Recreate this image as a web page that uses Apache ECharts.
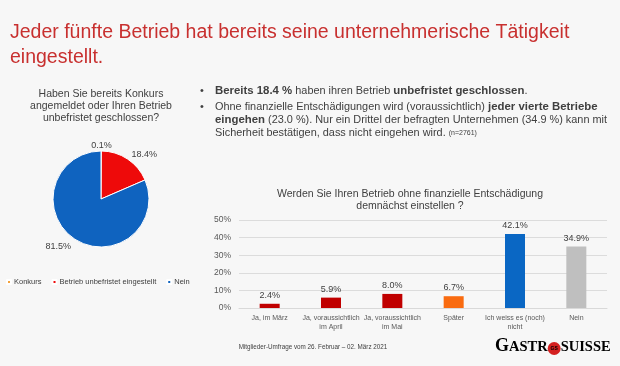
<!DOCTYPE html>
<html><head><meta charset="utf-8">
<script src="https://cdn.jsdelivr.net/npm/echarts@6/dist/echarts.min.js"></script>
<style>html,body{margin:0;padding:0;background:#f7f7f7}#c{width:620px;height:366px}</style>
</head><body><div id="c"></div>
<script>
// ---- data ----
var pieCategories = ['Konkurs', 'Betrieb unbefristet eingestellt', 'Nein'];
var pieValues = [0.1, 18.4, 81.5];
var barCategories = ['Ja, im März', 'Ja, voraussichtlich\nim April', 'Ja, voraussichtlich\nim Mai', 'Später', 'Ich weiss es (noch)\nnicht', 'Nein'];
var barValues = [2.4, 5.9, 8.0, 6.7, 42.1, 34.9];
var yTickMin = 0, yTickMax = 50, yTickStep = 10;

// ---- styles ----
var pieColors = ['#f4a23b', '#ee0a0a', '#0f63bf'];
var barColors = ['#c00000', '#c00000', '#c00000', '#f96b10', '#0a67c4', '#bfbfbf'];
var FONT = 'Liberation Sans, Arial, sans-serif';

var chart = echarts.init(document.getElementById('c'), null, {renderer: 'canvas'});

function txt(x, y, text, size, color, align, extra) {
  var s = {text: text, font: size + 'px ' + FONT, fill: color, textAlign: align || 'left', textVerticalAlign: 'middle'};
  if (extra) for (var k in extra) s[k] = extra[k];
  return {type: 'text', x: x, y: y, style: s, silent: true};
}

var richBullet = {
  b: {fontWeight: 'bold', color: '#111', fontSize: 11.4, fontFamily: FONT},
  s: {fontSize: 7, color: '#404040', fontFamily: FONT}
};
function bulletLine(y, text) {
  return {type: 'text', x: 215, y: y, silent: true,
    style: {text: text, rich: richBullet, font: '10.9px ' + FONT, fill: '#404040', textVerticalAlign: 'middle'}};
}

chart.setOption({
  backgroundColor: '#f7f7f7',
  animation: false,
  textStyle: {fontFamily: FONT},
  legend: {
    data: pieCategories,
    left: 1, top: 273,
    icon: 'rect', itemWidth: 4, itemHeight: 4, itemGap: 10,
    textStyle: {fontSize: 7.5, color: '#404040', padding: [0, 0, 0, -2]},
    selectedMode: false
  },
  grid: {left: 239, right: 13, top: 220, bottom: 58},
  xAxis: {
    type: 'category', data: barCategories,
    axisTick: {show: false},
    axisLine: {lineStyle: {color: '#d9d9d9'}},
    axisLabel: {fontSize: 7, color: '#595959', interval: 0, lineHeight: 9, margin: 6}
  },
  yAxis: {
    type: 'value', min: yTickMin, max: yTickMax, interval: yTickStep,
    axisLabel: {formatter: '{value}%', fontSize: 8.5, color: '#595959', margin: 8},
    splitLine: {lineStyle: {color: '#dcdcdc'}},
    axisLine: {show: false}, axisTick: {show: false}
  },
  series: [
    {
      type: 'pie', center: [101, 199], radius: 48,
      startAngle: 90, clockwise: true,
      legendHoverLink: false,
      data: pieCategories.map(function (n, i) {
        return {name: n, value: pieValues[i], itemStyle: {color: pieColors[i]}};
      }),
      itemStyle: {borderColor: '#ffffff', borderWidth: 1},
      label: {show: true, position: 'outside', fontSize: 9, color: '#404040',
        formatter: function (p) { return p.value.toFixed(1) + '%'; }},
      labelLine: {show: false, length: 5, length2: 1},
      labelLayout: function (p) {
        if (p.dataIndex === 0) return {dx: -16};
        if (p.dataIndex === 2) return {dx: 5, dy: 3};
        return {dx: -3, dy: -2};
      },
      emphasis: {disabled: true}
    },
    {
      type: 'bar', barWidth: 20,
      data: barValues.map(function (v, i) { return {value: v, itemStyle: {color: barColors[i]}}; }),
      label: {show: true, position: 'top', fontSize: 9, color: '#404040', distance: 4,
        formatter: function (p) { return p.value.toFixed(1) + '%'; }}
    }
  ],
  graphic: [
    txt(10, 33, 'Jeder fünfte Betrieb hat bereits seine unternehmerische Tätigkeit', 19.5, '#c8302f'),
    txt(10, 58, 'eingestellt.', 19.5, '#c8302f'),
    txt(101, 94, 'Haben Sie bereits Konkurs', 10.5, '#404040', 'center'),
    txt(101, 106.5, 'angemeldet oder Ihren Betrieb', 10.5, '#404040', 'center'),
    txt(101, 118.5, 'unbefristet geschlossen?', 10.5, '#404040', 'center'),
    txt(200, 91, '•', 11, '#404040'),
    txt(200, 107, '•', 11, '#404040'),
    bulletLine(91, '{b|Bereits 18.4 %} haben ihren Betrieb {b|unbefristet geschlossen}.'),
    bulletLine(107, 'Ohne finanzielle Entschädigungen wird (voraussichtlich) {b|jeder vierte Betriebe}'),
    bulletLine(120, '{b|eingehen} (23.0 %). Nur ein Drittel der befragten Unternehmen (34.9 %) kann mit'),
    bulletLine(133, 'Sicherheit bestätigen, dass nicht eingehen wird. {s|(n=2761)}'),
    txt(410, 194, 'Werden Sie Ihren Betrieb ohne finanzielle Entschädigung', 10.5, '#404040', 'center'),
    txt(410, 206, 'demnächst einstellen ?', 10.5, '#404040', 'center'),
    txt(313, 347, 'Mitglieder-Umfrage vom 26. Februar – 02. März 2021', 6.3, '#404040', 'center'),
    {type: 'text', x: 495, y: 346, silent: true, style: {
      text: '{g|G}{a|ASTR}{o|GS}{a|SUISSE}',
      textVerticalAlign: 'middle',
      rich: {
        g: {fontSize: 18, fontWeight: 'bold', fontFamily: 'Liberation Serif, DejaVu Serif, serif', color: '#3a3a3a', verticalAlign: 'bottom'},
        a: {fontSize: 14.5, fontWeight: 'bold', fontFamily: 'Liberation Serif, DejaVu Serif, serif', color: '#3a3a3a', verticalAlign: 'bottom'},
        o: {fontSize: 5, fontWeight: 'bold', color: '#ffffff', backgroundColor: '#d42020', borderRadius: 7, width: 13, height: 13, align: 'center', lineHeight: 13, verticalAlign: 'bottom'}
      }
    }}
  ]
});
</script>
</body></html>
